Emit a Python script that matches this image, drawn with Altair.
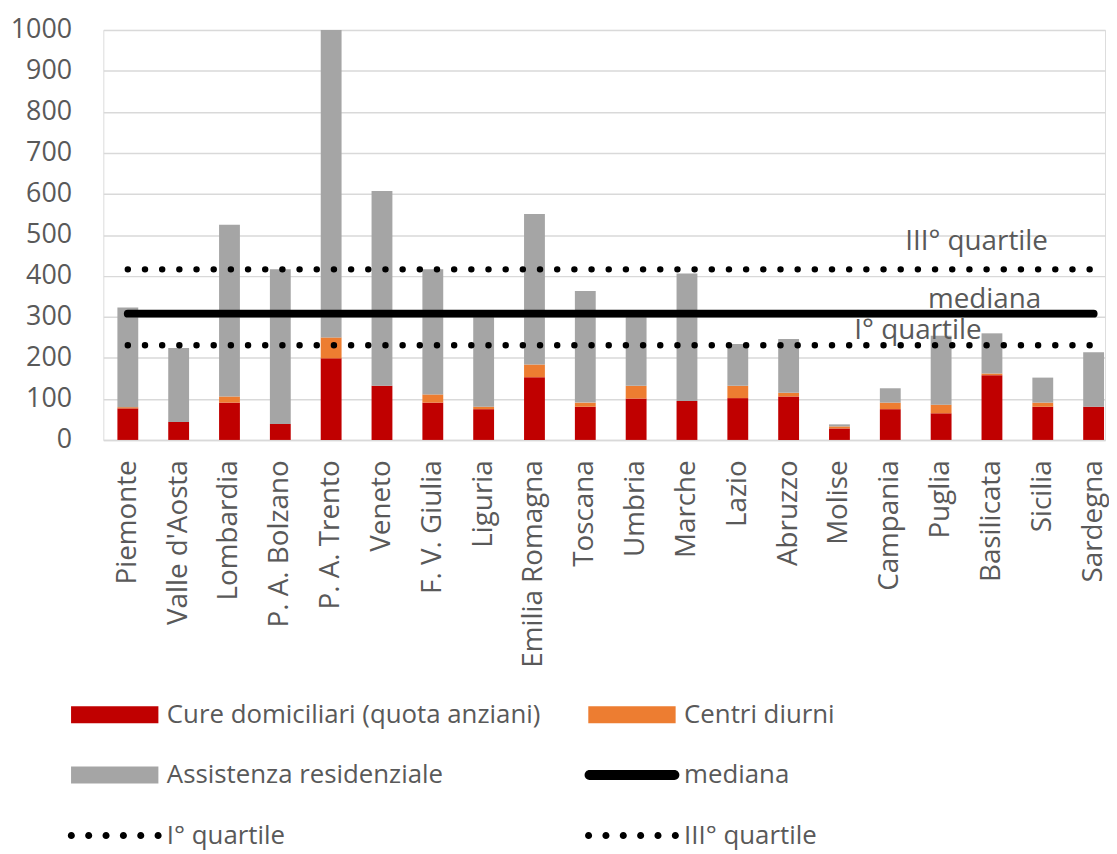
import altair as alt
import pandas as pd

# ---------------- data ----------------
regions = ["Piemonte", "Valle d'Aosta", "Lombardia", "P. A. Bolzano", "P. A. Trento",
           "Veneto", "F. V. Giulia", "Liguria", "Emilia Romagna", "Toscana", "Umbria",
           "Marche", "Lazio", "Abruzzo", "Molise", "Campania", "Puglia", "Basilicata",
           "Sicilia", "Sardegna"]
cure_domiciliari = [77, 44, 91, 39, 199, 132, 91, 75, 153, 81, 101, 95, 102, 106, 28, 75, 65, 158, 81, 81]
centri_diurni = [3, 0, 15, 0, 51, 0, 20, 6, 31, 10, 31, 0, 30, 9, 5, 16, 21, 4, 10, 0]
assistenza_residenziale = [243, 180, 419, 377, 750, 475, 305, 221, 367, 272, 168, 311, 102, 131, 5, 35, 168, 98, 61, 133]

primo_quartile = 231
mediana = 308
terzo_quartile = 416

bar_series = ["Cure domiciliari (quota anziani)", "Centri diurni", "Assistenza residenziale"]
legend_names = bar_series + ["mediana", "I° quartile", "III° quartile"]
legend_colors = ["#C00000", "#ED7D31", "#A5A5A5", "#000000", "#000000", "#000000"]

# annotation labels: text, anchor category, value, pixel shift
ann_text = ["III° quartile", "mediana", "I° quartile"]
ann_cat = ["Campania", "Campania", "Molise"]
ann_val = [483, 342, 265]
ann_dx = [15, 38, 15]

# ---------------- tables ----------------
bar_rows = []
for i, r in enumerate(regions):
    for k, (name, vals) in enumerate(zip(bar_series, [cure_domiciliari, centri_diurni, assistenza_residenziale])):
        bar_rows.append({"regione": r, "serie": name, "valore": vals[i], "ordine": k})
bars_df = pd.DataFrame(bar_rows)

line_rows = []
for name, v in [("I° quartile", primo_quartile), ("mediana", mediana), ("III° quartile", terzo_quartile)]:
    for r in regions:
        line_rows.append({"regione": r, "linea": name, "valore": v})
lines_df = pd.DataFrame(line_rows)

ann_df = pd.DataFrame({"testo": ann_text, "regione": ann_cat, "valore": ann_val, "dx": ann_dx})
legend_df = pd.DataFrame({"serie": legend_names})

# ---------------- legend symbol shapes ----------------
rect_path = "M-0.926,-0.18L0.926,-0.18L0.926,0.18L-0.926,0.18Z"
line_path = ("M-0.9,-0.105L0.9,-0.105A0.105,0.105 0 0,1 0.9,0.105"
             "L-0.9,0.105A0.105,0.105 0 0,1 -0.9,-0.105Z")
r = 0.075
dots = []
for j in range(6):
    cx = -0.92 + j * 0.368
    dots.append(f"M{cx - r:.3f},0A{r},{r} 0 1,0 {cx + r:.3f},0A{r},{r} 0 1,0 {cx - r:.3f},0Z")
dot_path = "".join(dots)
legend_shapes = [rect_path, rect_path, rect_path, line_path, dot_path, dot_path]

FONT = "Open Sans"
GREY = "#595959"

x_enc = alt.X(
    "regione:N", sort=regions, title=None,
    scale=alt.Scale(domain=regions, paddingInner=0.59, paddingOuter=0.1485, align=0.934),
    axis=alt.Axis(labelAngle=-90, labelAlign="right", labelBaseline="middle",
                  labelFont=FONT, labelFontSize=28, labelColor=GREY, labelPadding=20,
                  ticks=False, tickSize=0, domainColor="#D9D9D9", domainWidth=1.5,
                  grid=False, labelLimit=400),
)
y_scale = alt.Scale(domain=[0, 1000], nice=False)
y_axis = alt.Axis(values=list(range(0, 1001, 100)), format="d", grid=True, gridColor="#D9D9D9",
                  gridWidth=1.5, domain=False, ticks=False, tickSize=0, labelPadding=32,
                  labelFont=FONT, labelFontSize=27, labelColor=GREY)

bars = alt.Chart(bars_df).mark_bar().encode(
    x=x_enc,
    y=alt.Y("valore:Q", stack="zero", scale=y_scale, axis=y_axis, title=None),
    color=alt.Color("serie:N", scale=alt.Scale(domain=bar_series, range=legend_colors[:3]),
                    legend=None),
    order=alt.Order("ordine:Q"),
)

dotted = alt.Chart(lines_df).transform_filter(
    alt.FieldOneOfPredicate(field="linea", oneOf=["I° quartile", "III° quartile"])
).mark_line(color="black", strokeWidth=6.5, strokeCap="round", strokeDash=[0, 17.3]).encode(
    x=alt.X("regione:N", sort=regions),
    y=alt.Y("valore:Q"),
    detail="linea:N",
)

median_line = alt.Chart(lines_df).transform_filter(
    alt.FieldEqualPredicate(field="linea", equal="mediana")
).mark_line(color="black", strokeWidth=8, strokeCap="round").encode(
    x=alt.X("regione:N", sort=regions),
    y=alt.Y("valore:Q"),
)

texts = []
for t, dx in zip(ann_text, ann_dx):
    texts.append(
        alt.Chart(ann_df).transform_filter(alt.FieldEqualPredicate(field="testo", equal=t))
        .mark_text(align="left", baseline="middle", dx=dx, font=FONT, fontSize=28, color=GREY)
        .encode(x=alt.X("regione:N", sort=regions), y=alt.Y("valore:Q"), text="testo:N")
    )

legend_cfg = dict(
    orient="none", legendX=-36, legendY=642, columns=2, direction="horizontal", title=None,
    symbolSize=9025, symbolStrokeWidth=0, symbolOpacity=1,
    labelFont=FONT, labelFontSize=26, labelColor=GREY, labelOffset=5,
    columnPadding=43, rowPadding=-5, labelLimit=600, padding=0,
)

legend_layer = alt.Chart(legend_df).mark_point(
    filled=True, opacity=0
).encode(
    x=alt.value(0), y=alt.value(0),
    color=alt.Color("serie:N", scale=alt.Scale(domain=legend_names, range=legend_colors),
                    legend=alt.Legend(**legend_cfg)),
    shape=alt.Shape("serie:N", scale=alt.Scale(domain=legend_names, range=legend_shapes),
                    legend=alt.Legend(**legend_cfg)),
)

chart = alt.layer(bars, dotted, median_line, *texts, legend_layer).resolve_scale(
    color="independent", shape="independent"
).properties(
    width=1009, height=413,
    padding={"left": 96, "top": 19, "right": 4, "bottom": 414},
    autosize=alt.AutoSizeParams(type="none"),
).configure_view(stroke=None).configure(background="white")

chart.save("out.html", embed_options={"renderer": "svg", "actions": False})
